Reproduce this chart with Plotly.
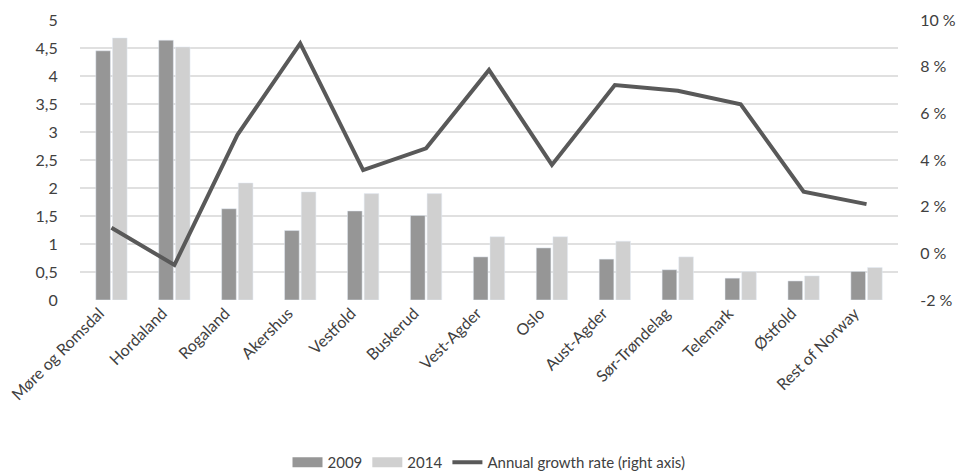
import plotly.graph_objects as go

categories = ["Møre og Romsdal", "Hordaland", "Rogaland", "Akershus", "Vestfold", "Buskerud",
              "Vest-Agder", "Oslo", "Aust-Agder", "Sør-Trøndelag", "Telemark", "Østfold", "Rest of Norway"]
v2009 = [4.45, 4.64, 1.63, 1.24, 1.59, 1.51, 0.77, 0.93, 0.73, 0.54, 0.39, 0.34, 0.51]
v2014 = [4.68, 4.52, 2.09, 1.93, 1.90, 1.90, 1.13, 1.13, 1.05, 0.77, 0.51, 0.43, 0.58]
growth = [1.1, -0.5, 5.07, 9.0, 3.57, 4.5, 7.86, 3.79, 7.21, 6.97, 6.39, 2.64, 2.11]

left_ticks = [0, 0.5, 1, 1.5, 2, 2.5, 3, 3.5, 4, 4.5, 5]
left_text = ["0", "0,5", "1", "1,5", "2", "2,5", "3", "3,5", "4", "4,5", "5"]
right_ticks = [-2, 0, 2, 4, 6, 8, 10]
right_text = ["-2 %", "0 %", "2 %", "4 %", "6 %", "8 %", "10 %"]

c2009 = "#969696"
c2014 = "#d0d0d0"
cline = "#595959"

font = dict(family="Lato, 'Open Sans', sans-serif", size=16, color="#404040")

fig = go.Figure()
fig.add_trace(go.Bar(x=categories, y=v2009, name="2009", marker_color=c2009, showlegend=False))
fig.add_trace(go.Bar(x=categories, y=v2014, name="2014", marker_color=c2014, showlegend=False))
fig.add_trace(go.Scatter(x=categories, y=growth, name="Annual growth rate (right axis)",
                         mode="lines", line=dict(color=cline, width=4), yaxis="y2", showlegend=False))
# legend entries (wide swatches like the reference)
fig.add_trace(go.Scatter(x=[None], y=[None], name="2009", mode="lines",
                         line=dict(color=c2009, width=12)))
fig.add_trace(go.Scatter(x=[None], y=[None], name="2014", mode="lines",
                         line=dict(color=c2014, width=12)))
fig.add_trace(go.Scatter(x=[None], y=[None], name="Annual growth rate (right axis)", mode="lines",
                         line=dict(color=cline, width=4)))

fig.update_layout(
    width=957, height=474,
    margin=dict(l=80, r=59, t=20, b=174, autoexpand=False),
    paper_bgcolor="white", plot_bgcolor="white",
    font=font,
    barmode="group", bargap=0.47, bargroupgap=0.12,
    showlegend=True,
    legend=dict(orientation="h", x=0.5, xanchor="center", y=-0.58, yanchor="middle",
                font=dict(size=15, color="#404040"), traceorder="normal"),
    xaxis=dict(tickangle=-45, showgrid=False, showline=False, ticks="", automargin=False,
               ticklabelshift=-12,
               tickfont=dict(size=16, color="#404040")),
    yaxis=dict(range=[0, 5], tickvals=left_ticks, ticktext=left_text, automargin=False,
               showgrid=True, gridcolor="#e0e0e0", gridwidth=1.5, zeroline=False,
               ticks="outside", ticklen=18, tickcolor="rgba(0,0,0,0)",
               tickfont=dict(size=16, color="#404040")),
    yaxis2=dict(range=[-2, 10], tickvals=right_ticks, ticktext=right_text, automargin=False,
                overlaying="y", side="right", showgrid=False, zeroline=False,
                ticks="outside", ticklen=18, tickcolor="rgba(0,0,0,0)",
                tickfont=dict(size=16, color="#404040")),
)

fig.write_html("out.html")
